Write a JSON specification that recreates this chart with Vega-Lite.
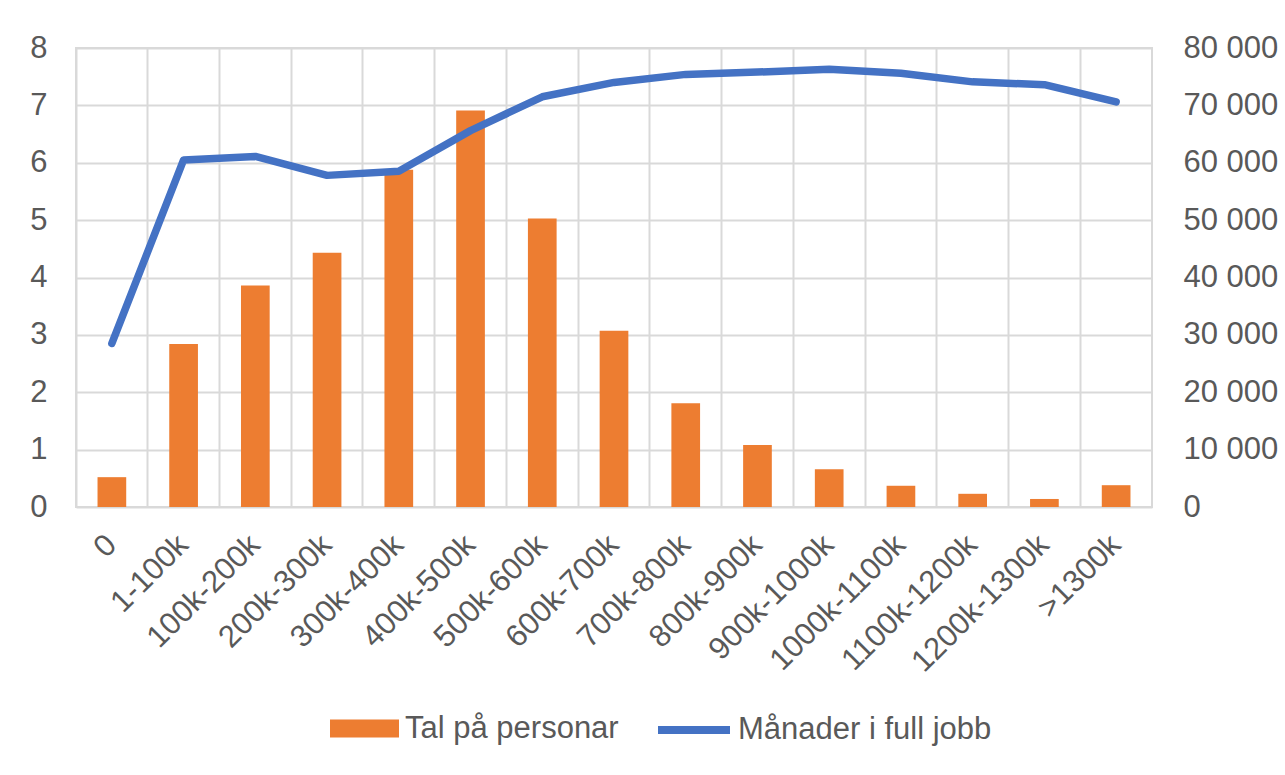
{
  "$schema": "https://vega.github.io/schema/vega-lite/v6.json",
  "width": 1076,
  "height": 459,
  "autosize": {"type": "none"},
  "padding": {"left": 76, "top": 48, "right": 133, "bottom": 268},
  "background": "white",
  "config": {
    "font": "Liberation Sans",
    "view": {"stroke": "#d9d9d9", "strokeWidth": 2},
    "locale": {"number": {"decimal": ",", "thousands": " ", "grouping": [3], "currency": ["", ""]}},
    "axis": {
      "labelFont": "Liberation Sans",
      "labelFontSize": 31,
      "labelColor": "#595959",
      "ticks": false,
      "domain": false,
      "title": null,
      "gridColor": "#d9d9d9",
      "gridWidth": 2
    },
    "legend": {
      "labelFont": "Liberation Sans",
      "labelFontSize": 31,
      "labelColor": "#595959",
      "labelLimit": 0
    }
  },
  "data": {
    "values": [
      {"kat": "0", "personar": 0.52, "manader": 28500},
      {"kat": "1-100k", "personar": 2.84, "manader": 60500},
      {"kat": "100k-200k", "personar": 3.86, "manader": 61100},
      {"kat": "200k-300k", "personar": 4.43, "manader": 57800},
      {"kat": "300k-400k", "personar": 5.88, "manader": 58500},
      {"kat": "400k-500k", "personar": 6.91, "manader": 65600},
      {"kat": "500k-600k", "personar": 5.03, "manader": 71500},
      {"kat": "600k-700k", "personar": 3.07, "manader": 74000},
      {"kat": "700k-800k", "personar": 1.81, "manader": 75400},
      {"kat": "800k-900k", "personar": 1.08, "manader": 75800},
      {"kat": "900k-1000k", "personar": 0.66, "manader": 76300},
      {"kat": "1000k-1100k", "personar": 0.37, "manader": 75600},
      {"kat": "1100k-1200k", "personar": 0.23, "manader": 74100},
      {"kat": "1200k-1300k", "personar": 0.14, "manader": 73600},
      {"kat": ">1300k", "personar": 0.38, "manader": 70600}
    ]
  },
  "layer": [
    {
      "mark": {"type": "bar", "width": {"band": 0.4}},
      "encoding": {
        "x": {
          "field": "kat",
          "type": "nominal",
          "sort": null,
          "scale": {"paddingInner": 0, "paddingOuter": 0},
          "axis": {"orient": "top", "labels": false, "grid": true, "bandPosition": 0, "domain": false, "ticks": false}
        },
        "y": {
          "field": "personar",
          "type": "quantitative",
          "scale": {"domain": [0, 8], "nice": false},
          "axis": {"orient": "left", "values": [0, 1, 2, 3, 4, 5, 6, 7, 8], "grid": true, "labelPadding": 29}
        },
        "fill": {
          "datum": "Tal på personar",
          "scale": {"range": ["#ED7D31"]},
          "legend": {
            "orient": "none",
            "legendX": 254,
            "legendY": 646,
            "title": null,
            "padding": 0,
            "symbolType": "M-1,-0.26H1V0.26H-1Z",
            "symbolSize": 4761,
            "symbolStrokeWidth": 0,
            "labelOffset": 6
          }
        }
      }
    },
    {
      "mark": {"type": "line", "strokeWidth": 7.5, "strokeCap": "round", "strokeJoin": "round"},
      "encoding": {
        "x": {
          "field": "kat",
          "type": "nominal",
          "sort": null,
          "axis": {"orient": "bottom", "labelAngle": -45, "labelAlign": "right", "labelBaseline": "middle", "labelPadding": 33, "grid": false}
        },
        "y": {
          "field": "manader",
          "type": "quantitative",
          "scale": {"domain": [0, 80000], "nice": false},
          "axis": {"orient": "right", "values": [0, 10000, 20000, 30000, 40000, 50000, 60000, 70000, 80000], "format": ",d", "grid": false, "labelPadding": 31}
        },
        "stroke": {
          "datum": "Månader i full jobb",
          "scale": {"range": ["#4472C4"]},
          "legend": {
            "orient": "none",
            "legendX": 578,
            "legendY": 642,
            "title": null,
            "padding": 0,
            "symbolType": "stroke",
            "symbolSize": 5184,
            "symbolStrokeWidth": 8,
            "labelOffset": 4
          }
        }
      }
    }
  ],
  "resolve": {"scale": {"y": "independent"}, "axis": {"x": "independent"}}
}
